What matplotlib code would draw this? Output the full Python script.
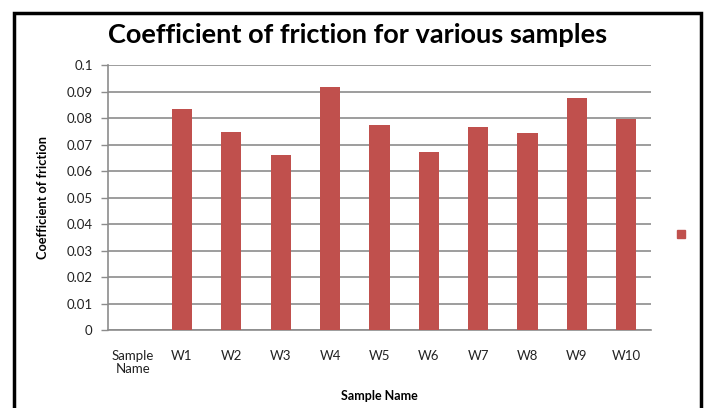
import numpy as np
import matplotlib.pyplot as plt
from matplotlib.patches import Rectangle
from matplotlib.lines import Line2D

plt.rcParams['font.family'] = ['Lato', 'DejaVu Sans']

# data
samples = ['Sample\nName', 'W1', 'W2', 'W3', 'W4', 'W5', 'W6', 'W7', 'W8', 'W9', 'W10']
cof = [np.nan, 0.0835, 0.0747, 0.0660, 0.0918, 0.0773, 0.0674, 0.0768, 0.0744, 0.0877, 0.0798]
yticks = [0, 0.01, 0.02, 0.03, 0.04, 0.05, 0.06, 0.07, 0.08, 0.09, 0.1]
ytick_labels = ['0', '0.01', '0.02', '0.03', '0.04', '0.05', '0.06', '0.07', '0.08', '0.09', '0.1']

fig = plt.figure(figsize=(7.05, 4.08), dpi=100)
ax = fig.add_axes([0.1532, 0.19, 0.770, 0.6507])

x = np.arange(len(samples))
ax.bar(x, np.nan_to_num(cof), width=0.41, color='#C0504D', zorder=3)

ax.set_xlim(-0.5, len(samples) - 0.5)
ax.set_ylim(0, 0.1)
ax.set_yticks(yticks)
ax.set_yticklabels(ytick_labels)
ax.set_xticks(x)
ax.set_xticklabels(samples, linespacing=1.1)
ax.tick_params(axis='x', length=0, pad=14, labelsize=9.5, colors='#222222')
ax.tick_params(axis='y', length=5, width=1, color='#8c8c8c', pad=6,
               labelsize=9.5, labelcolor='#222222')

ax.grid(axis='y', color='#8c8c8c', linewidth=1.2, zorder=0)
for s in ['top', 'right']:
    ax.spines[s].set_visible(False)
for s in ['left', 'bottom']:
    ax.spines[s].set_color('#8c8c8c')
    ax.spines[s].set_linewidth(1.2)

ax.set_title('Coefficient of friction for various samples', fontsize=19.5,
             fontweight='bold', pad=16, x=0.459)
ax.set_xlabel('Sample Name', fontsize=9, fontweight='bold', labelpad=11)
ax.set_ylabel('Coefficient of friction', fontsize=9.2, fontweight='bold',
              labelpad=13)

# lone legend marker without text
handle = Line2D([], [], marker='s', color='#C0504D', linestyle='none', markersize=6)
fig.legend([handle], [''], loc='center', bbox_to_anchor=(0.966, 0.424),
           frameon=False, handlelength=0.6, handletextpad=0)

# chart border
fig.patches.append(Rectangle((13.5 / 705, -0.05), (701 - 13.5) / 705, 1.05 - 13 / 408,
                             transform=fig.transFigure, fill=False,
                             edgecolor='black', linewidth=2.5, zorder=10))

fig.savefig('out.png', dpi=100)
